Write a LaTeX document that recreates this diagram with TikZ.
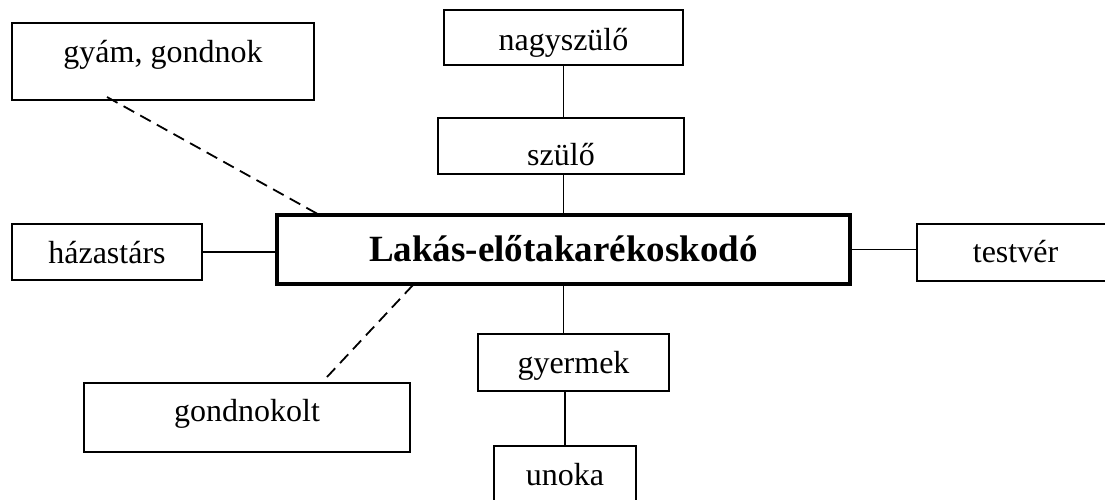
\documentclass[tikz,border=0pt]{standalone}
\usepackage{fontspec}
\setmainfont{Liberation Serif}
\tikzset{
  box/.style={draw, line width=2pt, inner sep=0pt, text height=22pt, text depth=0pt, font=\fontsize{32}{36}\selectfont},
  mainbox/.style={box, line width=4.2pt, font=\fontsize{37}{42}\selectfont\bfseries},
  link/.style={line width=1.8pt},
  dashlink/.style={line width=1.8pt, dash pattern=on 12pt off 7pt}
}
\begin{document}
\begin{tikzpicture}[x=1pt, y=-1pt]
  \useasboundingbox (0,0) rectangle (1105,499);
  \clip (0,0) rectangle (1105,499);
  % boxes
  \node[mainbox, minimum width=573pt, minimum height=69pt, text height=23pt] (lakas) at (563.5,249.5) {Lakás-előtakarékoskodó};
  \node[box, minimum width=302pt, minimum height=77pt, text height=1pt] (gyam) at (163,61.5) {gyám, gondnok};
  \node[box, minimum width=239pt, minimum height=55pt, text height=25pt] (nagyszulo) at (563.5,37.5) {nagyszülő};
  \node[box, minimum width=246pt, minimum height=56pt, text height=39pt] (szulo) at (561,146) {szülő};
  \node[box, minimum width=190pt, minimum height=56pt] (hazastars) at (107,252) {házastárs};
  \node[box, minimum width=197pt, minimum height=57pt, text height=20pt] (testver) at (1015.5,252.5) {testvér};
  \node[box, minimum width=191pt, minimum height=57pt] (gyermek) at (573.5,362.5) {gyermek};
  \node[box, minimum width=326pt, minimum height=69pt, text height=8pt] (gondnokolt) at (247,417.5) {gondnokolt};
  \node[box, minimum width=142pt, minimum height=58pt, text height=20pt] (unoka) at (565,475) {unoka};
  % connectors
  \draw[link] (nagyszulo.south) -- (nagyszulo.south |- szulo.north);
  \draw[link] (lakas.north) -- (lakas.north |- szulo.south);
  \draw[link] (lakas.south) -- (lakas.south |- gyermek.north);
  \draw[link] (unoka.north) -- (unoka.north |- gyermek.south);
  \draw[link] (hazastars.east) -- (hazastars.east -| lakas.west);
  \draw[link] (lakas.east) -- (lakas.east -| testver.west);
  \draw[dashlink] ([xshift=96pt, yshift=4pt]gyam.south west) -- ([xshift=48pt, yshift=-4pt]lakas.north west);
  \draw[dashlink] ([xshift=244pt, yshift=5pt]gondnokolt.north west) -- ([xshift=138pt, yshift=1pt]lakas.south west);
\end{tikzpicture}
\end{document}
